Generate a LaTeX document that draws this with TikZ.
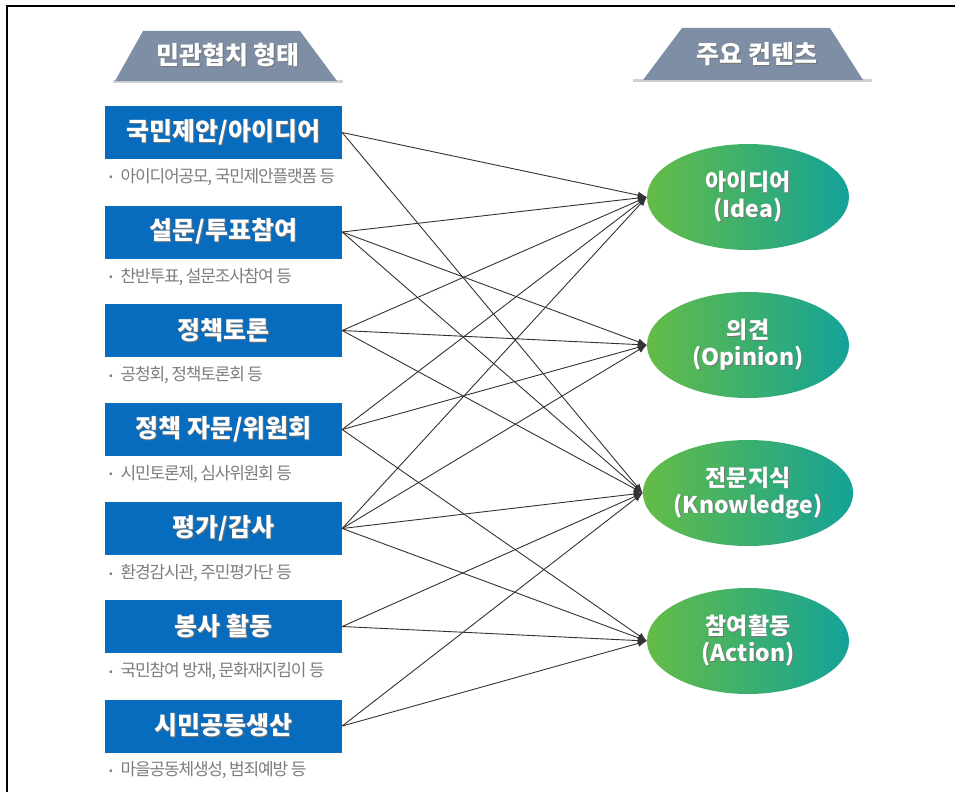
\documentclass[tikz,border=0pt]{standalone}
\usepackage{fontspec}
\setmainfont{Noto Sans CJK KR}
\newfontfamily\capfont{Noto Sans CJK KR}[LetterSpace=-7]
\usetikzlibrary{shapes,positioning,arrows.meta}
\definecolor{boxblue}{RGB}{8,108,190}
\definecolor{headgray}{RGB}{125,142,165}
\definecolor{capgray}{RGB}{125,125,125}
\definecolor{leafgreen}{RGB}{100,188,70}
\definecolor{leafteal}{RGB}{20,162,152}
\newcommand\shadowed[1]{\leavevmode\rlap{\hspace{0.9pt}\raisebox{-0.9pt}{\textcolor{black!55}{#1}}}#1}

\begin{document}
\begin{tikzpicture}[x=1pt,y=-1pt]
\tikzstyle{kind}=[fill=boxblue,text=white,font=\bfseries\fontsize{25}{28}\selectfont,minimum width=237pt,minimum height=53pt,inner sep=0]
\tikzstyle{note}=[text=capgray,font=\capfont\fontsize{17}{18}\selectfont,inner sep=0]
\tikzstyle{content}=[ellipse,left color=leafgreen,right color=leafteal,text=white,font=\bfseries\fontsize{23}{27}\selectfont,minimum width=202pt,minimum height=106pt,inner sep=0,align=center]
\tikzstyle{header}=[text=white,font=\bfseries\fontsize{25}{28}\selectfont,inner sep=0]
\tikzstyle{link}=[-{Latex[length=9pt,width=7pt]},draw=black!80,line width=0.9pt]

\useasboundingbox (0,0) rectangle (955,792);
\draw[line width=1.4pt] (7,792) -- (7,6) -- (955,6);

% headers
\fill[black!18] (113,80) rectangle (343,82.5);
\fill[headgray] (115,81) -- (143,31) -- (300,31) -- (337,81) -- cycle;
\node[header] (hl) at (228,56) {\shadowed{민관협치 형태}};
\fill[black!18] (633,79) rectangle (872,81.5);
\fill[headgray] (643,80) -- (682,28) -- (830,28) -- (863,80) -- cycle;
\node[header] (hr) at (757,55) {\shadowed{주요 컨텐츠}};

% forms of cooperation
\foreach \n/\y/\t/\c in {1/132.5/{국민제안/아이디어}/{아이디어공모, 국민제안플랫폼 등},
  2/232/{설문/투표참여}/{찬반투표, 설문조사참여 등},
  3/330.5/{정책토론}/{공청회, 정책토론회 등},
  4/429.5/{정책 자문/위원회}/{시민토론제, 심사위원회 등},
  5/528.5/{평가/감사}/{환경감시관, 주민평가단 등},
  6/626.5/{봉사 활동}/{국민참여 방재, 문화재지킴이 등},
  7/726/{시민공동생산}/{마을공동체생성, 범죄예방 등}}{
\node[kind] (b\n) at (223.5,\y) {\shadowed{\t}};
\node[note,below right=9pt and 4pt of b\n.south west] (c\n) {\raisebox{1.5pt}{\fontsize{11}{11}\selectfont•}\hspace{8pt}\c};
}

% contents
\foreach \n/\y/\a/\b in {1/197/아이디어/Idea,2/345/의견/Opinion,3/493/전문지식/Knowledge,4/641/참여활동/Action}{
\node[content] (e\n) at (748,\y) {\shadowed{\a}\\\shadowed{(\b)}};
}

\foreach \s/\t in {1/1,1/3,2/1,2/2,2/3,3/1,3/2,3/3,4/1,4/2,4/4,5/1,5/2,5/3,5/4,6/3,6/4,7/3,7/4}{
\draw[link] (b\s.east) -- (e\t.west);
}
\end{tikzpicture}
\end{document}
